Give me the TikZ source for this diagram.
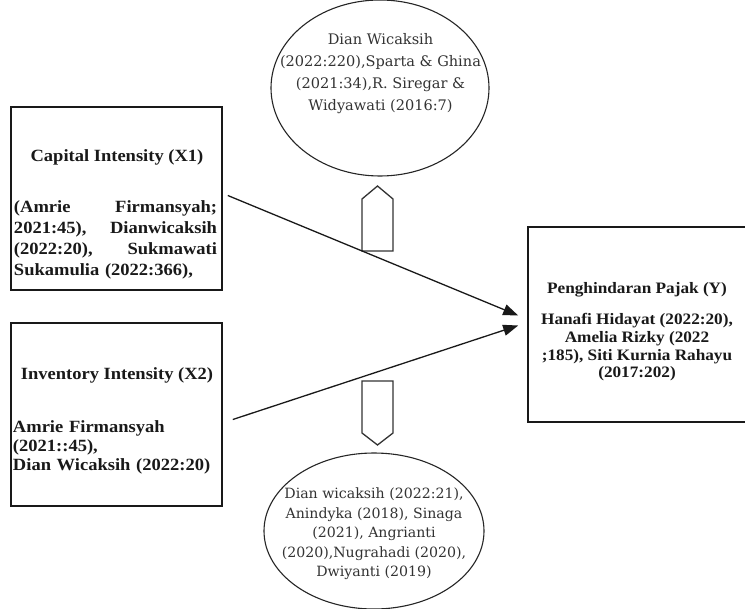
\documentclass[tikz,border=0pt]{standalone}
\usepackage{fontspec}
\usetikzlibrary{arrows.meta,calc,shapes.geometric}
\newfontfamily\tnr[FakeStretch=1.08]{Liberation Serif}
\newfontfamily\geo{DejaVu Serif}
\begin{document}
\begin{tikzpicture}[x=1bp,y=-1bp,
  box/.style={draw=black!90, line width=1.6bp, inner sep=0pt},
  oval/.style={draw=black!85, line width=1.1bp, ellipse, inner sep=0pt},
  btxt/.style={font=\tnr\bfseries\fontsize{17.2}{21}\selectfont, inner sep=0pt, text=black!90},
  etxt/.style={font=\geo\fontsize{14.6}{22.2}\selectfont, inner sep=0pt, align=center, text=black!80},
  conn/.style={draw=black!90, line width=1.3bp, -{Triangle[length=15bp,width=11bp]}},
  blockarrow/.style={draw=black!80, line width=1.3bp, line join=miter}]
\clip (0,0) rectangle (745,609);
\fill[white] (0,0) rectangle (745,609);
% boxes
\node[box, minimum width=211bp, minimum height=183bp] (x1) at (116.5,198.5) {};
\node[box, minimum width=211bp, minimum height=183bp] (x2) at (116.5,414.5) {};
\node[box, minimum width=219bp, minimum height=195bp] (y) at (637.5,324.5) {};
% box texts
\node[btxt] (x1t) at (117,157) {Capital Intensity (X1)};
\node[btxt, text width=203bp, align=left] (x1b) at (115.5,240)
  {\makebox[203bp]{(Amrie\hfill Firmansyah;}\\
   \makebox[203bp]{2021:45),\hfill Dianwicaksih}\\
   \makebox[203bp]{(2022:20),\hfill Sukmawati}\\
   Sukamulia (2022:366),};
\node[btxt] (x2t) at (117,375) {Inventory Intensity (X2)};
\node[btxt, font=\tnr\bfseries\fontsize{17.2}{19}\selectfont, text width=205bp, align=left] (x2b) at (115.5,447)
  {Amrie Firmansyah\\(2021::45),\\Dian Wicaksih (2022:20)};
\node[btxt, font=\tnr\bfseries\fontsize{16}{17.7}\selectfont] (yt) at (637,290) {Penghindaran Pajak (Y)};
\node[btxt, font=\tnr\bfseries\fontsize{16}{17.7}\selectfont, align=center] (yb) at (637,347.5)
  {Hanafi Hidayat (2022:20),\\Amelia Rizky (2022\\;185), Siti Kurnia Rahayu\\(2017:202)};
% ellipses
\node[oval, minimum width=218bp, minimum height=176bp] (m1) at (380,88) {};
\node[etxt] (m1t) at (380.5,73.5)
  {Dian Wicaksih\\(2022:220),Sparta \& Ghina\\(2021:34),R. Siregar \&\\Widyawati (2016:7)};
\node[oval, minimum width=220bp, minimum height=156bp] (m2) at (374,531) {};
\node[etxt, font=\geo\fontsize{14.2}{19.5}\selectfont] (m2t) at (374,534)
  {Dian wicaksih (2022:21),\\Anindyka (2018), Sinaga\\(2021), Angrianti\\(2020),Nugrahadi (2020),\\Dwiyanti (2019)};
% block arrows
\draw[blockarrow] (362,251) -- (362,199) -- (377.5,186) -- (393,199) -- (393,251) -- cycle;
\draw[blockarrow] (362,381) -- (362,433) -- (377.5,445) -- (393,433) -- (393,381) -- cycle;
% connectors
\draw[conn] ($(x1.east)+(5,-3)$) -- ($(y.west)+(-9,-9)$);
\draw[conn] ($(x2.east)+(10,5)$) -- ($(y.west)+(-9,1)$);
\end{tikzpicture}
\end{document}
